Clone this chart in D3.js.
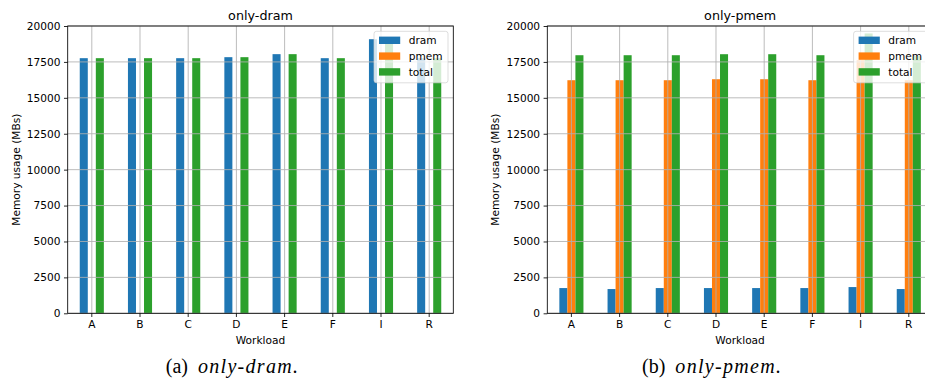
<!DOCTYPE html>
<html>
<head>
<meta charset="utf-8">
<script src="https://cdn.jsdelivr.net/npm/d3@7"></script>
<style>
  html, body { margin: 0; padding: 0; background: #fff; overflow: hidden; }
  svg { display: block; }
  text { font-family: "DejaVu Sans", sans-serif; fill: #000; }
  .caption { font-family: "Liberation Serif", "DejaVu Serif", serif; }
</style>
</head>
<body>
<svg id="fig" width="925" height="379"></svg>
<script>
// Workloads on the x axis
const categories = ["A", "B", "C", "D", "E", "F", "I", "R"];
const seriesNames = ["dram", "pmem", "total"];
const seriesColors = ["#1f77b4", "#ff7f0e", "#2ca02c"];
const yTicks = [0, 2500, 5000, 7500, 10000, 12500, 15000, 17500, 20000];

// only-dram configuration (MBs)
const onlyDramDram  = [17760, 17760, 17760, 17830, 18040, 17760, 19080, 17760];
const onlyDramPmem  = [0, 0, 0, 0, 0, 0, 0, 0];
const onlyDramTotal = [17760, 17760, 17760, 17830, 18040, 17760, 19080, 17760];

// only-pmem configuration (MBs)
const onlyPmemDram  = [1757, 1688, 1757, 1757, 1757, 1757, 1826, 1688];
const onlyPmemPmem  = [16226, 16226, 16226, 16295, 16295, 16226, 17620, 16226];
const onlyPmemTotal = [17966, 17966, 17966, 18036, 18036, 17966, 19480, 17910];

const panels = [
  { title: "only-dram", tag: "(a)", left: 67.7,
    series: [onlyDramDram, onlyDramPmem, onlyDramTotal] },
  { title: "only-pmem", tag: "(b)", left: 547.3,
    series: [onlyPmemDram, onlyPmemPmem, onlyPmemTotal] }
];

const svg = d3.select("#fig");
const plotW = 385.6, plotTop = 26, plotBottom = 313.3;
const fs = 10.6;
const gridColor = "#b0b0b0";

panels.forEach(p => {
  const g = svg.append("g").attr("transform", `translate(${p.left},0)`);

  const x = d3.scaleBand().domain(categories).range([0, plotW])
    .paddingInner(0.5).paddingOuter(0.25);
  const xs = d3.scaleBand().domain(seriesNames).range([0, x.bandwidth()]);
  const y = d3.scaleLinear().domain([0, 20000]).range([plotBottom, plotTop]);

  // bars
  seriesNames.forEach((s, si) => {
    g.append("g").selectAll("rect")
      .data(p.series[si])
      .join("rect")
      .attr("x", (d, i) => x(categories[i]) + xs(s))
      .attr("width", xs.bandwidth())
      .attr("y", d => y(d))
      .attr("height", d => y(0) - y(d))
      .attr("fill", seriesColors[si]);
  });

  // grid drawn above the bars
  const grid = g.append("g").attr("stroke", gridColor).attr("stroke-width", 0.85);
  grid.selectAll("line.h").data(yTicks).join("line").attr("class", "h")
    .attr("x1", 0).attr("x2", plotW)
    .attr("y1", d => y(d)).attr("y2", d => y(d));
  grid.selectAll("line.v").data(categories).join("line").attr("class", "v")
    .attr("x1", d => x(d) + x.bandwidth() / 2).attr("x2", d => x(d) + x.bandwidth() / 2)
    .attr("y1", plotTop).attr("y2", plotBottom);

  // axes
  const yAxis = d3.axisLeft(y).tickValues(yTicks).tickFormat(d3.format("d"))
    .tickSize(3.7).tickPadding(3.5);
  const ya = g.append("g").call(yAxis);
  const xAxis = d3.axisBottom(x).tickSize(3.7).tickPadding(3.5);
  const xa = g.append("g").attr("transform", `translate(0,${plotBottom})`).call(xAxis);
  [ya, xa].forEach(a => {
    a.select(".domain").remove();
    a.selectAll(".tick line").attr("stroke", "#000").attr("stroke-width", 0.85);
    a.selectAll(".tick text").style("font-size", fs + "px")
      .style("font-family", "DejaVu Sans").attr("fill", "#000");
  });

  // spines
  g.append("rect").attr("x", 0).attr("y", plotTop).attr("width", plotW)
    .attr("height", plotBottom - plotTop).attr("fill", "none")
    .attr("stroke", "#000").attr("stroke-width", 0.85);

  // titles & labels
  g.append("text").attr("x", plotW / 2).attr("y", 19.5)
    .attr("text-anchor", "middle").style("font-size", (fs * 1.2) + "px").text(p.title);
  g.append("text").attr("x", plotW / 2).attr("y", 344)
    .attr("text-anchor", "middle").style("font-size", fs + "px").text("Workload");
  g.append("text")
    .attr("transform", `translate(${-48},${(plotTop + plotBottom) / 2}) rotate(-90)`)
    .attr("text-anchor", "middle").style("font-size", fs + "px")
    .text("Memory usage (MBs)");

  // legend
  const lw = 74, lh = 51.5;
  const lg = g.append("g").attr("transform", `translate(${plotW - 5.3 - lw},${plotTop + 5.3})`);
  lg.append("rect").attr("width", lw).attr("height", lh).attr("rx", 2.5)
    .attr("fill", "#fff").attr("fill-opacity", 0.8)
    .attr("stroke", "#cccccc").attr("stroke-opacity", 0.8).attr("stroke-width", 0.85);
  seriesNames.forEach((s, i) => {
    const cy = 9 + i * 15.8;
    lg.append("rect").attr("x", 5).attr("y", cy - 3.7).attr("width", 21.2)
      .attr("height", 7.4).attr("fill", seriesColors[i]);
    lg.append("text").attr("x", 34.7).attr("y", cy + 3.8)
      .style("font-size", fs + "px").text(s);
  });

  // sub-caption
  const cap = svg.append("text").attr("class", "caption")
    .attr("x", p.left + plotW / 2 - 28).attr("y", 373)
    .attr("text-anchor", "middle").style("font-size", "20px");
  cap.append("tspan").text(p.tag);
  cap.append("tspan").attr("dx", 10).style("font-style", "italic")
    .style("letter-spacing", "1.3px").text(p.title + ".");
});
</script>
</body>
</html>
